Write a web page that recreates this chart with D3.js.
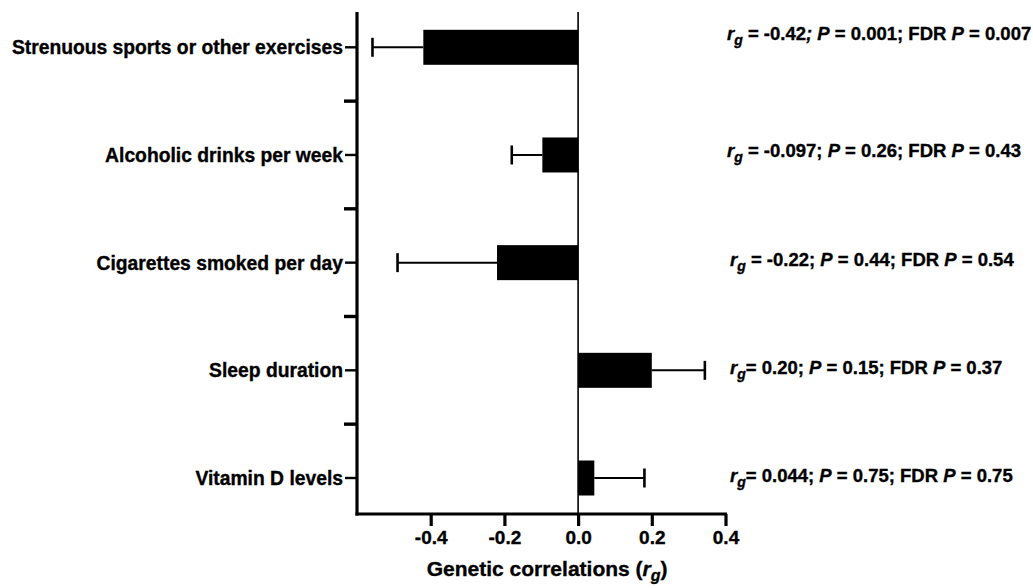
<!DOCTYPE html>
<html>
<head>
<meta charset="utf-8">
<script src="https://cdn.jsdelivr.net/npm/d3@7"></script>
<style>
  html, body { margin: 0; padding: 0; background: #fff; }
  svg { display: block; }
  text { font-family: "Liberation Sans", Arial, sans-serif; font-weight: bold; fill: #000; stroke: #000; stroke-width: 0.35px; }
</style>
</head>
<body>
<svg id="chart" width="1033" height="588"></svg>
<script>
// ---- data ----
const categories = [
  "Strenuous sports or other exercises",
  "Alcoholic drinks per week",
  "Cigarettes smoked per day",
  "Sleep duration",
  "Vitamin D levels"
];
const rgValues = [-0.42, -0.097, -0.22, 0.20, 0.044];
const rgErrors = [0.138, 0.083, 0.27, 0.144, 0.136];
const rgLabels = ["-0.42", "-0.097", "-0.22", "0.20", "0.044"];
const pLabels = ["0.001", "0.26", "0.44", "0.15", "0.75"];
const fdrLabels = ["0.007", "0.43", "0.54", "0.37", "0.75"];
const xTicks = [-0.4, -0.2, 0.0, 0.2, 0.4];
const xTitle = "Genetic correlations (";

// ---- layout ----
const svg = d3.select("#chart");
const axisX0 = 357, axisX1 = 725.5, axisTop = 12, axisBottom = 514;
const x = d3.scaleLinear().domain([-0.6, 0.4]).range([axisX0, axisX1]);
const y = d3.scalePoint().domain(categories).range([47.3, 478]);
const step = y.step();
const barH = 35;

// zero line
svg.append("line")
  .attr("x1", x(0)).attr("x2", x(0))
  .attr("y1", axisTop).attr("y2", axisBottom)
  .attr("stroke", "#000").attr("stroke-width", 1.6);

// bars
svg.selectAll("rect.bar").data(categories).enter().append("rect")
  .attr("class", "bar")
  .attr("x", (d, i) => Math.min(x(0), x(rgValues[i])))
  .attr("width", (d, i) => Math.abs(x(rgValues[i]) - x(0)))
  .attr("y", d => y(d) - barH / 2)
  .attr("height", barH)
  .attr("fill", "#000");

// error bars (one-sided, outward)
const errEnd = i => rgValues[i] + Math.sign(rgValues[i]) * rgErrors[i];
svg.selectAll("line.whisk").data(categories).enter().append("line")
  .attr("x1", (d, i) => x(rgValues[i]))
  .attr("x2", (d, i) => x(errEnd(i)))
  .attr("y1", d => y(d)).attr("y2", d => y(d))
  .attr("stroke", "#000").attr("stroke-width", 2);
svg.selectAll("line.cap").data(categories).enter().append("line")
  .attr("x1", (d, i) => x(errEnd(i)))
  .attr("x2", (d, i) => x(errEnd(i)))
  .attr("y1", d => y(d) - 9.5).attr("y2", d => y(d) + 9.5)
  .attr("stroke", "#000").attr("stroke-width", 2.6);

// y axis line
svg.append("line")
  .attr("x1", axisX0).attr("x2", axisX0)
  .attr("y1", axisTop).attr("y2", axisBottom + 1.5)
  .attr("stroke", "#000").attr("stroke-width", 3.2);

// category ticks + labels
svg.selectAll("line.ytick").data(categories).enter().append("line")
  .attr("x1", axisX0 - 12).attr("x2", axisX0)
  .attr("y1", d => y(d)).attr("y2", d => y(d))
  .attr("stroke", "#000").attr("stroke-width", 2.4);
svg.selectAll("text.ylab").data(categories).enter().append("text")
  .attr("x", axisX0 - 14)
  .attr("y", d => y(d))
  .attr("dy", "0.36em")
  .attr("text-anchor", "end")
  .attr("font-size", 19.3)
  .text(d => d);

// boundary ticks between categories
const bounds = categories.slice(0, -1).map(d => y(d) + step / 2);
svg.selectAll("line.bt").data(bounds).enter().append("line")
  .attr("x1", axisX0 - 13).attr("x2", axisX0)
  .attr("y1", d => d).attr("y2", d => d)
  .attr("stroke", "#000").attr("stroke-width", 3.4);

// x axis
const xAxis = d3.axisBottom(x).tickValues(xTicks).tickSize(12).tickSizeOuter(0)
  .tickFormat(d => d.toFixed(1));
const gx = svg.append("g").attr("transform", `translate(0,${axisBottom})`).call(xAxis);
gx.select(".domain").attr("stroke", "#000").attr("stroke-width", 3.2)
  .attr("d", `M${axisX0 - 1.5},0H${axisX1 + 1.5}`);
gx.selectAll(".tick line").attr("stroke", "#000").attr("stroke-width", 3.2);
gx.selectAll(".tick text")
  .attr("y", 17).attr("dy", "0.71em")
  .attr("font-size", 19)
  .style("font-family", '"Liberation Sans", Arial, sans-serif')
  .style("font-weight", "bold")
  .style("stroke", "#000").style("stroke-width", "0.35px")
  .attr("fill", "#000");

// x title
const xt = svg.append("text")
  .attr("x", x(0) - 31).attr("y", 576)
  .attr("text-anchor", "middle")
  .attr("font-size", 21);
xt.append("tspan").text(xTitle);
xt.append("tspan").attr("font-style", "italic").text("r");
xt.append("tspan").attr("font-style", "italic").attr("font-size", 16).attr("dy", 5).text("g");
xt.append("tspan").attr("dy", -5).text(")");

// annotations
const annoX = [727, 727, 730, 730, 730];
const annoShift = [-7, 2, 3.5, 4, 4];
categories.forEach((c, i) => {
  const t = svg.append("text")
    .attr("x", annoX[i])
    .attr("y", y(c) + annoShift[i])
    .attr("font-size", 18.5);
  t.append("tspan").attr("font-style", "italic").text("r");
  t.append("tspan").attr("font-style", "italic").attr("font-size", 14).attr("dy", 5).text("g");
  const gap = i >= 3 ? "" : " ";
  t.append("tspan").attr("dy", -5).text(gap + "= " + rgLabels[i]);
  if (i === 0) {
    t.append("tspan").attr("font-style", "italic").text("; P");
  } else {
    t.append("tspan").text("; ");
    t.append("tspan").attr("font-style", "italic").text("P");
  }
  t.append("tspan").text(" = " + pLabels[i] + "; FDR ");
  t.append("tspan").attr("font-style", "italic").text("P");
  t.append("tspan").text(" = " + fdrLabels[i]);
});
</script>
</body>
</html>
